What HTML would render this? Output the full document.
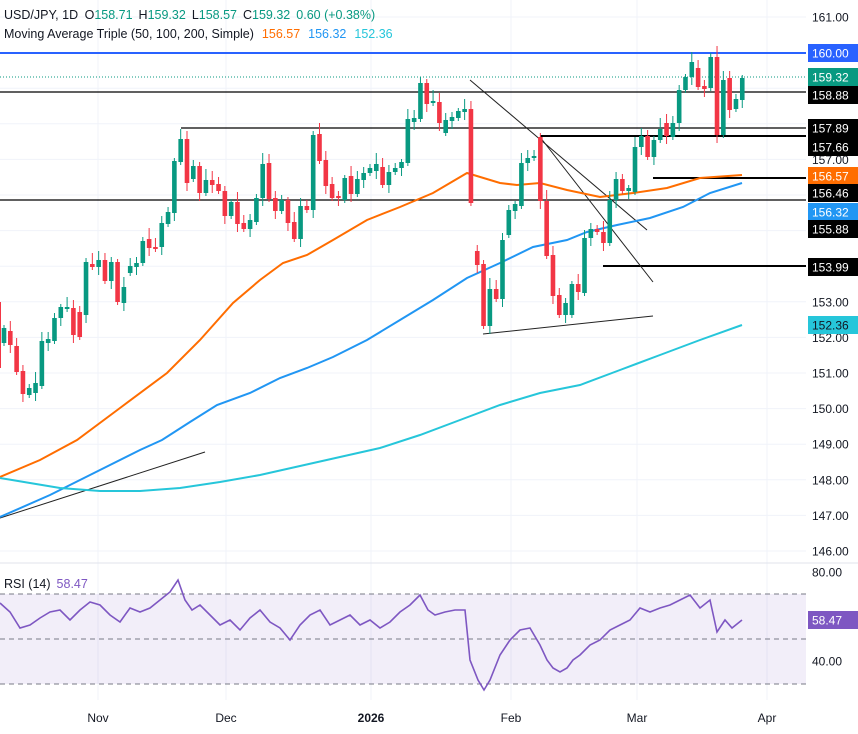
<!DOCTYPE html>
<html><head><meta charset="utf-8"><style>
html,body{margin:0;padding:0;background:#fff;}
svg{display:block;font-family:"Liberation Sans",sans-serif;}
</style></head><body>
<svg id="c" width="858" height="734" viewBox="0 0 858 734" xmlns="http://www.w3.org/2000/svg">
<rect width="858" height="734" fill="#fff"/>
<g id="grid" stroke="#f0f3fa" stroke-width="1"></g>
<rect x="0" y="594" width="806" height="90" fill="#7e57c2" fill-opacity="0.1"/>
<g stroke="#787b86" stroke-width="1" stroke-dasharray="5,4">
<line x1="0" y1="594" x2="806" y2="594"/><line x1="0" y1="639" x2="806" y2="639"/><line x1="0" y1="684" x2="806" y2="684"/>
</g>
<line x1="0" y1="563" x2="858" y2="563" stroke="#e0e3eb"/>
<line x1="0" y1="53" x2="806" y2="53" stroke="#2962ff" stroke-width="2"/>
<line x1="0" y1="77" x2="806" y2="77" stroke="#089981" stroke-dasharray="1,2"/>
<g stroke="#000" stroke-width="1.2">
<line x1="0" y1="92" x2="806" y2="92"/>
<line x1="181" y1="128" x2="806" y2="128"/>
<line x1="540" y1="136" x2="806" y2="136" stroke-width="2"/>
<line x1="653" y1="178" x2="806" y2="178" stroke-width="2"/>
<line x1="0" y1="200" x2="806" y2="200"/>
<line x1="603" y1="266" x2="806" y2="266" stroke-width="2"/>
</g>
<g stroke="#222" stroke-width="1">
<line x1="470" y1="80" x2="647" y2="230"/>
<line x1="540" y1="137" x2="653" y2="282"/>
<line x1="483" y1="334" x2="653" y2="316"/>
<line x1="0" y1="518" x2="205" y2="452"/>
</g>
<g id="ma" fill="none" stroke-width="2"></g>
<g id="candles"></g>
<polyline id="rsi" fill="none" stroke="#7e57c2" stroke-width="1.6"/>
<g id="axis" font-size="12"></g>
<g font-size="12" fill="#131722">
<text x="98" y="722" text-anchor="middle">Nov</text>
<text x="226" y="722" text-anchor="middle">Dec</text>
<text x="371" y="722" text-anchor="middle" font-weight="bold">2026</text>
<text x="511" y="722" text-anchor="middle">Feb</text>
<text x="637" y="722" text-anchor="middle">Mar</text>
<text x="767" y="722" text-anchor="middle">Apr</text>
</g>
<text x="4" y="19" font-size="12.5" fill="#131722">USD/JPY, 1D <tspan dx="3">O</tspan><tspan fill="#089981">158.71</tspan><tspan dx="6">H</tspan><tspan fill="#089981">159.32</tspan><tspan dx="6">L</tspan><tspan fill="#089981">158.57</tspan><tspan dx="6">C</tspan><tspan fill="#089981">159.32</tspan><tspan dx="6" fill="#089981">0.60 (+0.38%)</tspan></text>
<text x="4" y="38" font-size="12.5" fill="#131722">Moving Average Triple (50, 100, 200, Simple)<tspan dx="8" fill="#ff6d00">156.57</tspan><tspan dx="8" fill="#2196f3">156.32</tspan><tspan dx="8" fill="#26c6da">152.36</tspan></text>
<text x="4" y="588" font-size="12.5" fill="#131722">RSI (14)<tspan dx="6" fill="#7e57c2">58.47</tspan></text>
</svg>
<script>
var NS="http://www.w3.org/2000/svg";
function el(t,a,p,txt){var e=document.createElementNS(NS,t);for(var k in a)e.setAttribute(k,a[k]);if(txt)e.textContent=txt;document.getElementById(p).appendChild(e);return e;}
function Y(p){return 17+(161-p)*35.6;}
// grid
for(var p=146;p<=161;p++)el("line",{x1:0,y1:Y(p),x2:806,y2:Y(p)},"grid");
[98,226,371,511,637,767].forEach(function(x){el("line",{x1:x,y1:0,x2:x,y2:700},"grid");});
// candles [top,bottom,green]
var d=[[328,343,1],[331,345,0],[346,372,0],[371,394,0],[388,395,1],[383,393,1],[341,386,1],[339,343,1],[318,341,1],[307,318,1],[307,309,1],[308,335,0],[312,337,0],[262,315,1],[264,267,0],[260,267,1],[260,281,0],[262,281,1],[262,302,0],[287,303,1],[266,273,1],[263,267,1],[241,263,1],[239,248,0],[247,249,0],[223,247,1],[212,224,1],[161,213,1],[139,162,1],[139,183,0],[166,179,1],[166,193,0],[180,193,1],[180,185,0],[184,191,0],[191,216,0],[202,216,1],[202,224,0],[223,229,0],[220,229,1],[198,222,1],[164,198,1],[163,199,0],[198,211,0],[200,211,1],[200,223,0],[222,239,0],[206,239,1],[206,210,0],[135,210,1],[134,161,0],[160,186,0],[184,198,0],[196,198,0],[178,200,1],[176,194,0],[179,194,1],[173,180,1],[168,173,1],[164,171,1],[167,185,0],[172,185,1],[168,172,1],
[162,168,1],[119,163,1],[118,122,1],[83,119,1],[83,104,0],[101,103,1],[102,123,0],[120,133,1],[117,121,1],[111,118,1],[109,112,1],[109,203,0],[251,265,0],[264,326,0],[289,326,1],[289,299,0],[240,299,1],[210,235,1],[204,211,1],[163,206,1],[158,163,1],[156,158,1],[137,201,0],[201,256,0],[255,296,0],[295,315,0],[303,315,1],[284,315,1],[284,292,0],[238,293,1],[229,238,1],[229,232,0],[232,243,0],[200,243,1],[179,200,1],[179,191,0],[188,191,1],[147,192,1],[136,147,1],[136,157,0],[140,157,1],[129,140,1],[123,136,0],[123,137,1],[90,123,1],[77,90,1],[62,77,1],[68,87,0],[86,89,0],[57,88,1],[57,135,0],[80,135,1],[78,110,0],[99,109,1],[78,100,1]];
el("rect",{x:-4,y:302,width:5,height:66,fill:"#f23645"},"candles");
d.forEach(function(c,i){var x=4+i*6.31,col=c[2]?"#089981":"#f23645";
var h=c[0]-3-((i*7)%9),l=c[1]+3+((i*5)%10);
el("line",{x1:x,y1:h,x2:x,y2:l,stroke:col,"stroke-width":1},"candles");
el("rect",{x:x-2.3,y:c[0],width:4.6,height:Math.max(1,c[1]-c[0]),fill:col},"candles");});
// MAs
function pl(pts,col){el("polyline",{points:pts.map(function(q){return q.join(",")}).join(" "),stroke:col},"ma");}
pl([[0,477],[40,460],[77,440],[120,408],[167,373],[200,340],[233,303],[260,280],[283,263],[307,255],[333,240],[367,220],[400,207],[433,193],[467,173],[500,183],[517,185],[540,183],[567,190],[600,197],[633,193],[667,188],[700,178],[742,175]],"#ff6d00");
pl([[0,517],[50,495],[100,470],[140,450],[162,440],[190,422],[217,405],[250,393],[280,378],[307,368],[333,357],[367,340],[400,320],[433,300],[467,278],[500,263],[533,247],[567,240],[587,232],[617,225],[650,218],[683,207],[710,193],[742,183]],"#2196f3");
pl([[0,478],[30,483],[60,488],[100,491],[140,491],[180,488],[220,482],[260,475],[300,466],[340,457],[380,448],[420,435],[460,420],[500,405],[540,393],[580,385],[620,370],[660,355],[700,340],[742,325]],"#26c6da");
// RSI
var r=[[0,603],[10,612],[20,628],[30,625],[40,618],[50,612],[60,610],[70,620],[80,610],[90,602],[100,605],[110,615],[120,622],[130,608],[140,612],[150,608],[160,600],[170,592],[178,580],[185,600],[192,610],[200,605],[210,615],[220,625],[230,620],[240,630],[250,618],[260,610],[270,622],[280,628],[290,640],[300,625],[310,615],[320,610],[330,625],[340,620],[350,615],[360,625],[370,620],[380,628],[390,622],[400,612],[410,605],[420,595],[428,610],[435,615],[445,612],[455,610],[465,610],[470,660],[478,680],[484,690],[490,680],[500,655],[510,640],[520,630],[530,628],[540,645],[547,660],[553,668],[560,672],[567,668],[573,660],[580,655],[590,645],[600,640],[610,630],[620,625],[630,620],[640,608],[650,612],[660,608],[670,605],[680,600],[690,595],[700,608],[710,600],[717,632],[725,620],[732,628],[742,620]];
document.getElementById("rsi").setAttribute("points",r.map(function(q){return q.join(",")}).join(" "));
// axis
function lab(t,y,bg,fg){if(bg)el("rect",{x:808,y:y-9,width:50,height:18,fill:bg},"axis");el("text",{x:812,y:y+4.5,fill:fg||"#131722"},"axis",t);}
[[161,"161.00"],[153,"153.00"],[151,"151.00"],[150,"150.00"],[149,"149.00"],[148,"148.00"],[147,"147.00"],[146,"146.00"],[152,"152.00"],[157,"157.00"]].forEach(function(a){lab(a[1],Y(a[0]));});
lab("160.00",53,"#2962ff","#fff");lab("159.32",77,"#089981","#fff");lab("158.88",95,"#000","#fff");
el("rect",{x:808,y:119,width:50,height:37,fill:"#000"},"axis");
lab("157.89",128,null,"#fff");lab("157.66",147,null,"#fff");
lab("156.57",176,"#ff6d00","#fff");lab("156.46",193,"#000","#fff");lab("156.32",212,"#2196f3","#fff");lab("155.88",229,"#000","#fff");
lab("153.99",267,"#000","#fff");lab("152.36",325,"#26c6da","#131722");
lab("80.00",572);lab("40.00",661);lab("58.47",620,"#7e57c2","#fff");
</script>
</body></html>
